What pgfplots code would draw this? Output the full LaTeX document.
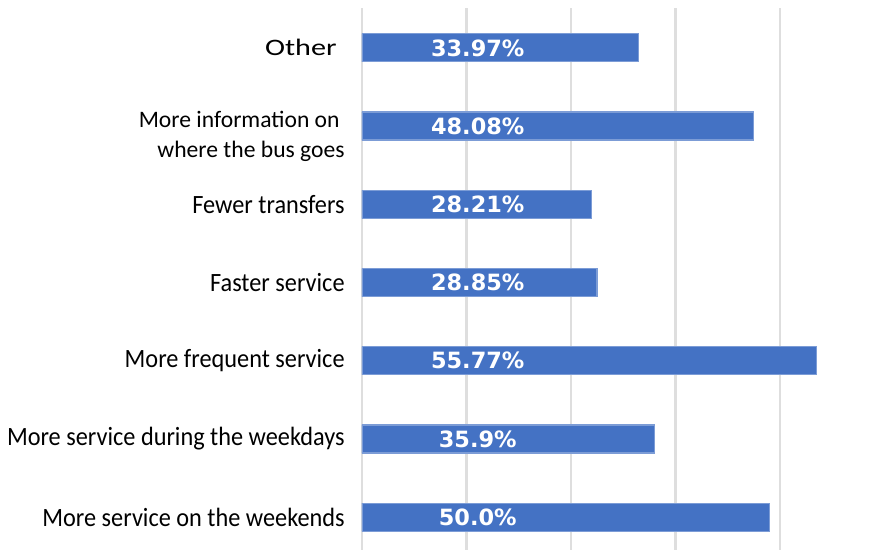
\documentclass[border=0pt]{standalone}
\usepackage{fontspec}
\setmainfont{Carlito}
\newfontfamily\valfont{DejaVu Sans}
\usepackage{graphicx}
\usepackage{pgfplots}
\usepackage{pgfplotstable}
\pgfplotsset{compat=1.18}
\definecolor{barblue}{HTML}{4472C4}
\definecolor{gridgray}{RGB}{222,222,222}
\newcommand\sm{\fontsize{11.8}{15}\selectfont}
\newcommand\nl[1]{\scalebox{0.92}[1]{#1}}

% share of 156 responses, bottom to top; lx = where the value label sits
\pgfplotstableread[col sep=comma]{
y,val,lab,lx
0,50.0,50.0,14.2
1,35.9,35.9,14.2
2,55.77,55.77,14.2
3,28.85,28.85,14.2
4,28.21,28.21,14.2
5,48.08,48.08,14.2
6,33.97,33.97,14.2
}\datatable

\begin{document}
\begin{tikzpicture}
\path[use as bounding box] (-181pt,0) rectangle (257.5pt,275pt);
\begin{axis}[
  scale only axis, width=257.5pt, height=271pt,
  xmin=0, xmax=63.2, ymin=-0.42, ymax=6.51,
  xtick={0,12.8205,25.641,38.4615,51.2821}, xticklabels={},
  xmajorgrids, grid style={gridgray, line width=1.2pt},
  ytick={0,...,6},
  yticklabels={\nl{More service on the weekends}, \nl{More service during the weekdays}, \nl{More frequent service}, \nl{Faster service}, \nl{Fewer transfers},
    {\raisebox{-5pt}[\height][\depth]{\sm\begin{tabular}{@{}r@{}}More information on\kern2.5pt\\where the bus goes\end{tabular}}},
    {\scalebox{1.28}[1]{\sm Other}\kern4pt}},
  yticklabel style={font=\fontsize{13.2}{15}\selectfont, inner sep=0pt, xshift=-8.5pt},
  axis line style={draw=none}, tick style={draw=none},
]
\addplot[xbar, bar width=14pt, fill=barblue, draw=barblue!70!white, line width=0.6pt]
  table[x=val, y=y] {\datatable};
\addplot[draw=none, nodes near coords={\pgfplotspointmeta\%}, point meta=explicit symbolic,
  every node near coord/.style={anchor=center, text=white, font=\valfont\bfseries\fontsize{11.2}{13}\selectfont}]
  table[x=lx, y=y, meta=lab] {\datatable};
\end{axis}
\end{tikzpicture}
\end{document}
